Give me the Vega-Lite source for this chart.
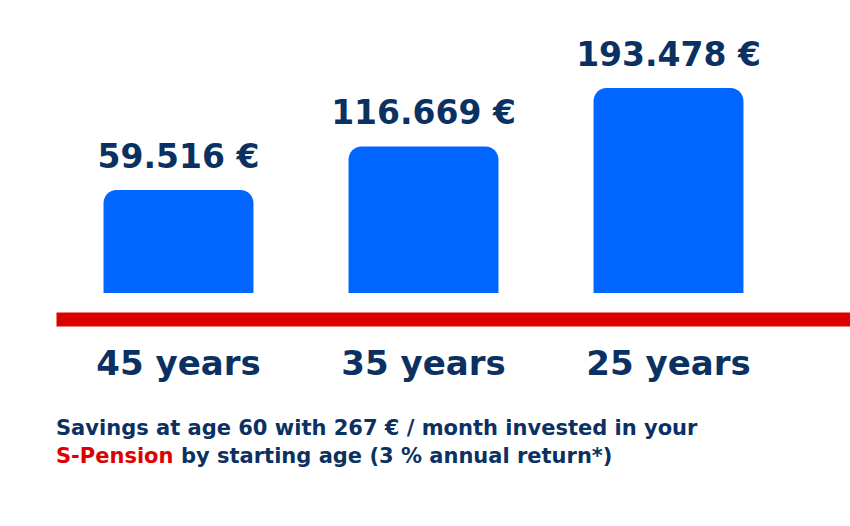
{
  "$schema": "https://vega.github.io/schema/vega-lite/v6.json",
  "width": 794,
  "height": 319,
  "autosize": {"type": "none"},
  "padding": {"left": 56, "top": 0, "right": 0, "bottom": 207},
  "background": "white",
  "config": {"view": {"stroke": null}},
  "data": {
    "values": [
      {"kind": "bar", "start": "45 years", "savings": 59516, "label": "59.516 €"},
      {"kind": "bar", "start": "35 years", "savings": 116669, "label": "116.669 €"},
      {"kind": "bar", "start": "25 years", "savings": 193478, "label": "193.478 €"},
      {"kind": "caption", "part": "line1", "start": "45 years", "caption": "Savings at age 60 with 267 € / month invested in your"},
      {"kind": "caption", "part": "brand", "start": "45 years", "caption": "S-Pension"},
      {"kind": "caption", "part": "line2", "start": "45 years", "caption": "by starting age (3 % annual return*)"}
    ]
  },
  "encoding": {
    "x": {
      "field": "start",
      "type": "nominal",
      "sort": null,
      "scale": {"paddingInner": 0, "paddingOuter": 0.1204, "align": 0},
      "axis": {
        "title": null,
        "orient": "bottom",
        "labelAngle": 0,
        "ticks": false,
        "domainColor": "#dd0000",
        "domainWidth": 14,
        "domainCap": "butt",
        "labelPadding": 55,
        "labelBaseline": "alphabetic",
        "labelFont": "DejaVu Sans",
        "labelFontSize": 34,
        "labelFontWeight": "bold",
        "labelColor": "#0b3162"
      }
    }
  },
  "layer": [
    {
      "transform": [{"filter": "datum.kind === 'bar'"}],
      "mark": {
        "type": "bar",
        "color": "#0066ff",
        "width": {"band": 0.612},
        "cornerRadiusTopLeft": 13,
        "cornerRadiusTopRight": 13
      },
      "encoding": {
        "y": {
          "field": "savings",
          "type": "quantitative",
          "scale": {"domain": [-109909, 309056], "zero": false, "nice": false},
          "axis": null
        },
        "y2": {"datum": -75761}
      }
    },
    {
      "transform": [{"filter": "datum.kind === 'bar'"}],
      "mark": {
        "type": "text",
        "dy": -22,
        "baseline": "alphabetic",
        "font": "DejaVu Sans",
        "fontSize": 33,
        "fontWeight": "bold",
        "color": "#0b3162"
      },
      "encoding": {
        "y": {"field": "savings", "type": "quantitative"},
        "text": {"field": "label"}
      }
    },
    {
      "transform": [{"filter": "datum.part === 'line1'"}],
      "mark": {
        "type": "text",
        "align": "left",
        "baseline": "alphabetic",
        "font": "DejaVu Sans",
        "fontSize": 21,
        "fontWeight": "bold",
        "color": "#0b3162"
      },
      "encoding": {
        "x": {"field": "start", "type": "nominal", "sort": null, "bandPosition": 0},
        "y": {"datum": -262260},
        "text": {"field": "caption"}
      }
    },
    {
      "transform": [{"filter": "datum.part === 'brand'"}],
      "mark": {
        "type": "text",
        "align": "left",
        "baseline": "alphabetic",
        "font": "DejaVu Sans",
        "fontSize": 21,
        "fontWeight": "bold",
        "color": "#dd0000"
      },
      "encoding": {
        "x": {"field": "start", "type": "nominal", "sort": null, "bandPosition": 0},
        "y": {"datum": -299035},
        "text": {"field": "caption"}
      }
    },
    {
      "transform": [{"filter": "datum.part === 'line2'"}],
      "mark": {
        "type": "text",
        "align": "left",
        "baseline": "alphabetic",
        "dx": 125,
        "font": "DejaVu Sans",
        "fontSize": 21,
        "fontWeight": "bold",
        "color": "#0b3162"
      },
      "encoding": {
        "x": {"field": "start", "type": "nominal", "sort": null, "bandPosition": 0},
        "y": {"datum": -299035},
        "text": {"field": "caption"}
      }
    }
  ]
}
